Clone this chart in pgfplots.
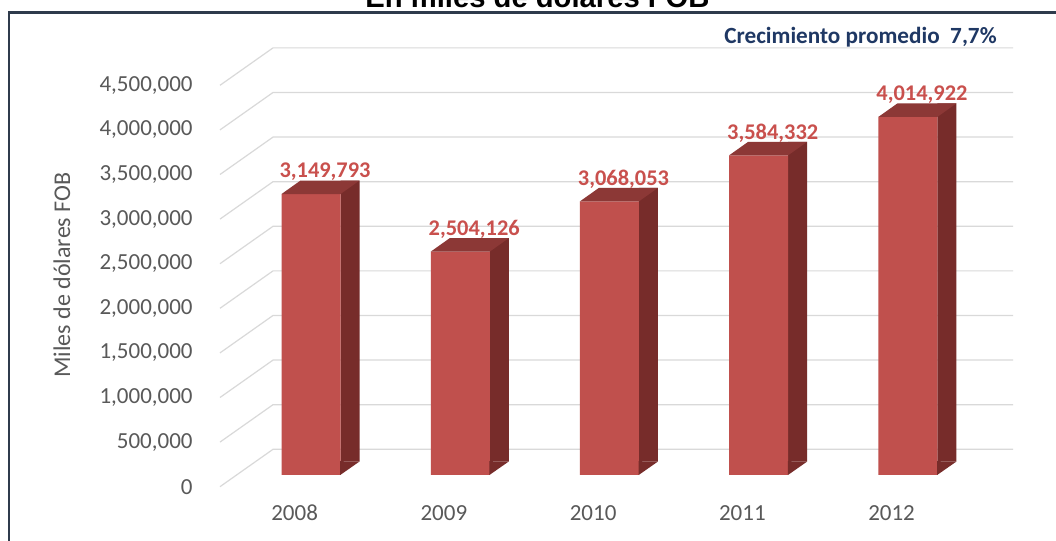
\documentclass[border=0pt]{standalone}
\usepackage{pgfplots}
\pgfplotsset{compat=1.18}
\usepackage{pgfplotstable}
\usepackage{fontspec}
\setmainfont{Carlito}
\newfontfamily\arialfont{Liberation Sans}
\definecolor{frontc}{HTML}{C0504D}
\definecolor{topc}{HTML}{8C3836}
\definecolor{sidec}{HTML}{772C2A}
\definecolor{gridc}{HTML}{D9D9D9}
\definecolor{textc}{HTML}{595959}
\definecolor{navyc}{HTML}{1F3864}
\definecolor{framec}{HTML}{2F3B4C}
\definecolor{labelc}{HTML}{C9504D}

\pgfdeclareplotmark{topface}{%
  \pgfpathmoveto{\pgfpoint{-14.75pt}{0pt}}%
  \pgfpathlineto{\pgfpoint{14.75pt}{0pt}}%
  \pgfpathlineto{\pgfpoint{24.25pt}{6.75pt}}%
  \pgfpathlineto{\pgfpoint{-5.25pt}{6.75pt}}%
  \pgfpathclose\pgfusepathqfill}
\pgfdeclareplotmark{sidebot}{%
  \pgfpathmoveto{\pgfpoint{14.6pt}{0pt}}%
  \pgfpathlineto{\pgfpoint{24.25pt}{6.75pt}}%
  \pgfpathlineto{\pgfpoint{14.6pt}{6.9pt}}%
  \pgfpathclose\pgfusepathqfill}

\pgfplotstableread{
x y
0 3149793
1 2504126
2 3068053
3 3584332
4 4014922
}\datatable

\begin{document}
\begin{tikzpicture}
\useasboundingbox (0,0) rectangle (528pt,270.5pt);
\clip (0,0) rectangle (528pt,270.5pt);
\fill[white] (0,0) rectangle (528pt,270.5pt);
\begin{axis}[
  at={(118.2pt,33pt)}, anchor=south west,
  scale only axis, width=373.1pt, height=200.7pt,
  xmin=-0.5, xmax=4.5, ymin=0, ymax=4500000,
  clip=false,
  axis line style={draw=none},
  major tick length=0pt,
  tick style={draw=none},
  scaled y ticks=false,
  /pgf/number format/assume math mode=true,
  xtick={0,1,2,3,4},
  xticklabels={2008,2009,2010,2011,2012},
  ytick={0,500000,1000000,1500000,2000000,2500000,3000000,3500000,4000000,4500000},
  yticklabel style={/pgf/number format/fixed,/pgf/number format/1000 sep={,},
    anchor=east, inner sep=0pt, xshift=-21.7pt, yshift=-5.85pt,
    font=\fontsize{11.5}{13}\selectfont, text=textc},
  xticklabel style={anchor=center, inner sep=0pt, xshift=-8.2pt, yshift=-19pt,
    font=\fontsize{11.5}{13}\selectfont, text=textc},
]
\pgfplotsinvokeforeach{0,500000,1000000,1500000,2000000,2500000,3000000,3500000,4000000,4500000}{
  \draw[gridc, line width=0.6pt] ([xshift=-8.2pt,yshift=-5.85pt]axis cs:-0.5,#1) -- ([xshift=18.3pt,yshift=12.85pt]axis cs:-0.5,#1) -- ([xshift=18.3pt,yshift=12.85pt]axis cs:4.46,#1);
}
\addplot[ybar, bar width=9.5pt, bar shift=19.5pt, fill=sidec, draw=none, yshift=6.75pt] table[x=x,y=y] {\datatable};
\addplot[only marks, mark=sidebot, mark options={fill=sidec, draw=none}] coordinates {(0,0) (1,0) (2,0) (3,0) (4,0)};
\addplot[ybar, bar width=29.5pt, bar shift=0pt, fill=frontc, draw=none] table[x=x,y=y] {\datatable};
\addplot[only marks, mark=topface, mark options={fill=topc, draw=none},
  nodes near coords,
  nodes near coords style={anchor=center, xshift=7pt, yshift=11pt,
    font=\fontsize{11.2}{13}\selectfont\bfseries, text=labelc,
    /pgf/number format/fixed, /pgf/number format/1000 sep={,}}
  ] table[x=x,y=y] {\datatable};
\end{axis}
\node[rotate=90, text=textc, font=\fontsize{12}{14}\selectfont] at (31pt,133pt) {Miles de dólares FOB};
\node[text=navyc, font=\fontsize{11.6}{14}\selectfont\bfseries] at (430.25pt,252pt) {Crecimiento promedio\ \ 7,7\%};
\draw[framec, line width=1.1pt] (4.6pt,-2pt) -- (4.6pt,264.2pt) -- (540pt,264.2pt);
\node[anchor=base, font=\arialfont\bfseries\fontsize{14.6}{16}\selectfont, inner sep=0pt] at (268.75pt,266.5pt) {En miles de dólares FOB};
\end{tikzpicture}
\end{document}
